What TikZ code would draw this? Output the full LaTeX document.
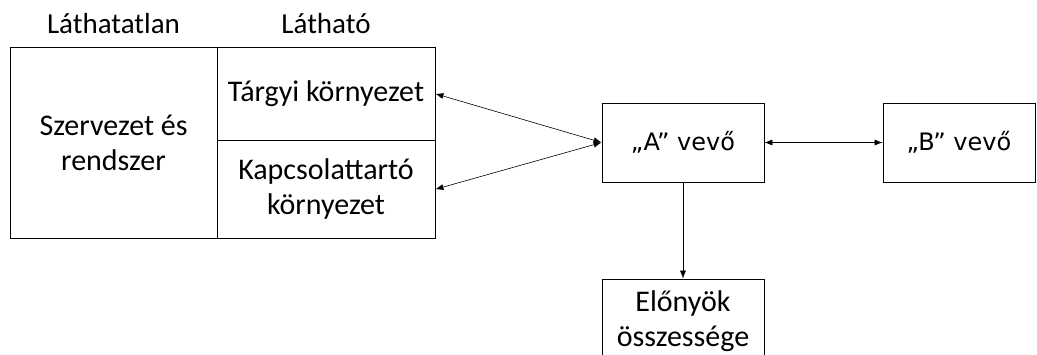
\documentclass[tikz,border=0pt]{standalone}
\usepackage{fontspec}
\setmainfont{Carlito}
\newfontfamily\vevofont{DejaVu Sans}
\usetikzlibrary{arrows.meta}
\tikzset{
  cell/.style={draw=black, line width=0.8pt, rectangle, inner sep=0pt, align=center,
    font=\fontsize{30}{35}\selectfont},
  vevo/.style={cell, font=\vevofont\fontsize{24}{28}\selectfont},
  head/.style={font=\fontsize{29}{32}\selectfont, inner sep=0pt},
  link/.style={line width=0.6pt, {Latex[length=8pt,width=6pt]}-{Latex[length=8pt,width=6pt]}},
  flow/.style={line width=0.6pt, -{Latex[length=8pt,width=6pt]}}
}
\begin{document}
\begin{tikzpicture}[x=1pt, y=-1pt]
  \useasboundingbox (0,0) rectangle (1037,354);
  \clip (0,0) rectangle (1037,354);
  % column headings
  \node[head] (hLat) at (113.5,24) {Láthatatlan};
  \node[head] (hVis) at (326,24) {Látható};
  % organisation block
  \node[cell, minimum width=207pt, minimum height=191pt] (szerv) at (113.5,143) {Szervezet és\\rendszer};
  \node[cell, minimum width=218pt, minimum height=92.5pt] (targyi) at (326,93.75) {Tárgyi környezet};
  \node[cell, minimum width=218pt, minimum height=98.5pt] (kapcs) at (326,189.25) {Kapcsolattartó\\környezet};
  % customers
  \node[vevo, minimum width=162pt, minimum height=79pt] (A) at (683,142.5) {„A” vevő};
  \node[vevo, minimum width=152pt, minimum height=79pt] (B) at (959,142.5) {„B” vevő};
  \node[cell, minimum width=162pt, minimum height=84pt] (elo) at (683,321) {Előnyök\\összessége};
  % connections
  \draw[link] (targyi.east) -- (A.west);
  \draw[link] (kapcs.east) -- (A.west);
  \draw[link] (A.east) -- (B.west);
  \draw[flow] (A.south) -- (elo.north);
\end{tikzpicture}
\end{document}
